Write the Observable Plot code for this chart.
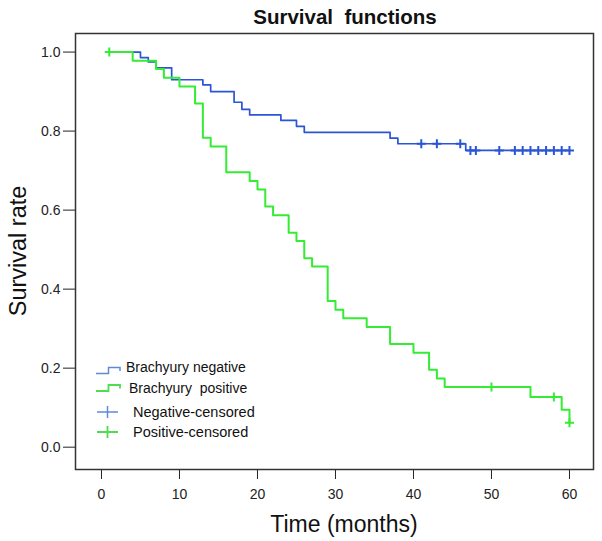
<!DOCTYPE html>
<html><head><meta charset="utf-8">
<script src="https://cdn.jsdelivr.net/npm/d3@7"></script>
<script src="https://cdn.jsdelivr.net/npm/@observablehq/plot@0.6"></script>
<style>
body{margin:0;background:#fff;}
#wrap{position:relative;width:602px;height:541px;font-family:Arial,"Liberation Sans",sans-serif;}
#overlay{position:absolute;left:0;top:0;pointer-events:none;}
#overlay text{white-space:pre;font-family:Arial,"Liberation Sans",sans-serif;fill:#111;}
</style></head><body><div id="wrap"></div>
<script>
// Brachyury negative: step times (months) and survival rate
const negTime = [1, 5, 6, 7, 9, 13, 14, 17, 18, 19, 23, 25, 26, 37, 38, 46.7, 60];
const negSurv = [1.0, 0.986, 0.975, 0.960, 0.930, 0.917, 0.900, 0.873, 0.855, 0.841, 0.827, 0.812, 0.797, 0.782, 0.768, 0.751, 0.751];
// Negative censored
const negCensTime = [41, 43, 46, 47.3, 48, 51, 53, 54, 55, 56, 57, 58, 59, 60];
const negCensSurv = [0.768, 0.768, 0.768, 0.751, 0.751, 0.751, 0.751, 0.751, 0.751, 0.751, 0.751, 0.751, 0.751, 0.751];
// Brachyury positive
const posTime = [1, 4, 7, 8, 10, 12, 13, 14, 16, 19, 20, 21, 22, 24, 25, 26, 27, 29, 30, 31, 34, 37, 40, 42, 43, 44, 55, 59, 60];
const posSurv = [1.0, 0.978, 0.957, 0.935, 0.913, 0.870, 0.783, 0.761, 0.696, 0.674, 0.652, 0.609, 0.587, 0.543, 0.522, 0.478, 0.457, 0.370, 0.348, 0.326, 0.304, 0.261, 0.239, 0.196, 0.174, 0.152, 0.127, 0.095, 0.062];
// Positive censored
const posCensTime = [1, 50, 58, 60];
const posCensSurv = [1.0, 0.152, 0.127, 0.062];
// Axis ticks
const xTicks = [0, 10, 20, 30, 40, 50, 60];
const yTicks = [0.0, 0.2, 0.4, 0.6, 0.8, 1.0];
const legendLabels = ["Brachyury negative", "Brachyury  positive", "Negative-censored", "Positive-censored"];

const blue = "#2a55d6", green = "#33ec33";
const blueL = "#5f8ad8", greenL = "#4fdc4f";

const rows = (t, s) => t.map((d, i) => ({t: d, s: s[i]}));
const plusSym = {draw(ctx, size){ const h = Math.sqrt(size / Math.PI); ctx.moveTo(0, -h); ctx.lineTo(0, h); ctx.moveTo(-h, 0); ctx.lineTo(h, 0); }};

const chart = Plot.plot({
  width: 602, height: 541,
  marginLeft: 75, marginRight: 9, marginTop: 33, marginBottom: 72,
  style: {fontFamily: "Arial, 'Liberation Sans', sans-serif", fontSize: "14px", color: "#222", background: "#fff"},
  x: {domain: [-3.33, 63.08], ticks: xTicks, tickSize: 10, tickPadding: 10, label: null},
  y: {domain: [-0.0565, 1.047], ticks: yTicks, tickFormat: d3.format(".1f"), tickSize: 12, tickPadding: 3, label: null},
  marks: [
    Plot.frame({stroke: "#333", strokeWidth: 1.5}),
    Plot.line(rows(negTime, negSurv), {x: "t", y: "s", curve: "step-after", stroke: blue, strokeWidth: 1.7}),
    Plot.line(rows(posTime, posSurv), {x: "t", y: "s", curve: "step-after", stroke: green, strokeWidth: 2}),
    Plot.dot(rows(negCensTime, negCensSurv), {x: "t", y: "s", symbol: plusSym, r: 4.5, fill: "none", stroke: blue, strokeWidth: 2}),
    Plot.dot(rows(posCensTime, posCensSurv), {x: "t", y: "s", symbol: plusSym, r: 4.5, fill: "none", stroke: green, strokeWidth: 2})
  ]
});
const wrap = document.getElementById("wrap");
wrap.appendChild(chart);

const ns = "http://www.w3.org/2000/svg";
const ov = document.createElementNS(ns, "svg");
ov.setAttribute("id", "overlay");
ov.setAttribute("width", 602); ov.setAttribute("height", 541);
function txt(x, y, s, size, opts = {}) {
  const e = document.createElementNS(ns, "text");
  e.setAttribute("x", x); e.setAttribute("y", y);
  e.setAttribute("font-size", size);
  if (opts.anchor) e.setAttribute("text-anchor", opts.anchor);
  if (opts.weight) e.setAttribute("font-weight", opts.weight);
  if (opts.transform) e.setAttribute("transform", opts.transform);
  if (opts.baseline) e.setAttribute("dominant-baseline", opts.baseline);
  e.textContent = s; ov.appendChild(e); return e;
}
function path(d, stroke, w) {
  const e = document.createElementNS(ns, "path");
  e.setAttribute("d", d); e.setAttribute("fill", "none");
  e.setAttribute("stroke", stroke); e.setAttribute("stroke-width", w);
  ov.appendChild(e);
}
txt(345, 24, "Survival  functions", "20.5px", {anchor: "middle", weight: "bold"});
txt(344, 532, "Time (months)", "23px", {anchor: "middle"});
txt(0, 0, "Survival rate", "23.5px", {anchor: "middle", transform: "translate(26,251) rotate(-90)"});
// legend
path("M96,373.5H108.5V367.5H120V371", blueL, 1.5);
path("M96,391H108.5V385H120V388.5", greenL, 1.8);
path("M97,412H118M107.5,406V418", blueL, 1.5);
path("M97,432H118M107.5,426V438", greenL, 1.8);
txt(126, 367, legendLabels[0], "14px", {baseline: "central"});
txt(129, 388, legendLabels[1], "14px", {baseline: "central"});
txt(133, 412, legendLabels[2], "14.5px", {baseline: "central"});
txt(133, 432, legendLabels[3], "14.5px", {baseline: "central"});
wrap.appendChild(ov);
</script></body></html>
